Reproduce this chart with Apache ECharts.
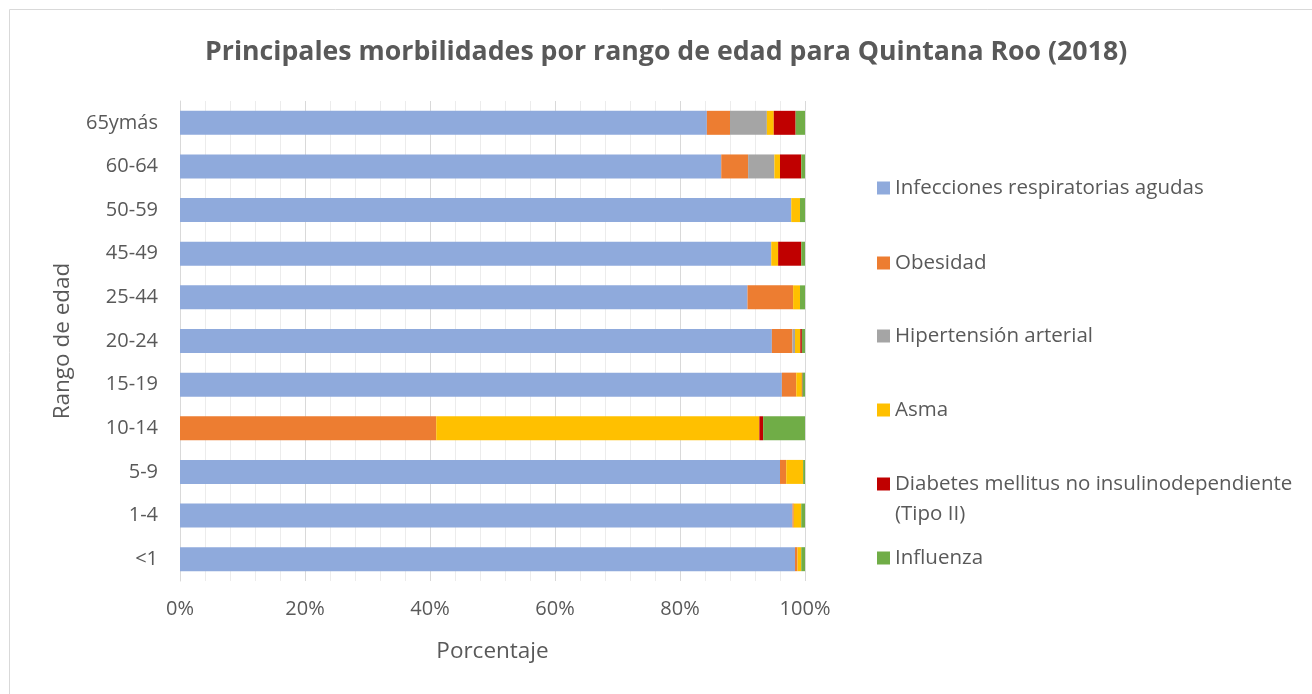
<!DOCTYPE html>
<html>
<head>
<meta charset="utf-8">
<script src="https://cdn.jsdelivr.net/npm/echarts@6/dist/echarts.min.js"></script>
<style>
  html, body { margin: 0; padding: 0; background: #fff; }
  #chart-container { width: 1312px; height: 694px; }
</style>
</head>
<body>
<div id="chart-container"></div>
<script>
var dom = document.getElementById('chart-container');
var myChart = echarts.init(dom, null, { renderer: 'canvas' });

// bottom to top, like the Excel chart
var categories = ['<1', '1-4', '5-9', '10-14', '15-19', '20-24', '25-44', '45-49', '50-59', '60-64', '65ymás'];

var seriesNames = [
  'Infecciones respiratorias agudas',
  'Obesidad',
  'Hipertensión arterial',
  'Asma',
  'Diabetes mellitus no insulinodependiente (Tipo II)',
  'Influenza'
];

// percentages per category, same order as categories
var infecciones  = [98.4, 98.0, 96.0, 0,    96.3, 94.7, 90.8, 94.6, 97.8, 86.6, 84.3];
var obesidad     = [0.4,  0.2,  1.0,  41.0, 2.3,  3.3,  7.3,  0,    0,    4.3,  3.7];
var hipertension = [0,    0,    0,    0,    0,    0.4,  0,    0,    0,    4.2,  5.9];
var asma         = [0.6,  1.2,  2.7,  51.7, 0.9,  0.85, 1.1,  1.1,  1.4,  0.9,  1.1];
var diabetes     = [0,    0,    0,    0.6,  0.1,  0.25, 0,    3.7,  0,    3.4,  3.5];
var influenza    = [0.6,  0.6,  0.3,  6.7,  0.4,  0.5,  0.8,  0.6,  0.8,  0.6,  1.5];

var xTicks = [0, 20, 40, 60, 80, 100];

var colors = ['#8faadc', '#ed7d31', '#a5a5a5', '#ffc000', '#c00000', '#70ad47'];
var allValues = [infecciones, obesidad, hipertension, asma, diabetes, influenza];

var font = '"Open Sans", Lato, sans-serif';
var textColor = '#595959';

var legendCenters = [186, 261, 334, 408, 482, 556];
var legends = seriesNames.map(function (name, i) {
  var multi = i === 4;
  return {
    orient: 'vertical',
    left: 872,
    top: legendCenters[i] - (multi ? 45 : 15) - 3,
    data: [name],
    itemWidth: 13,
    itemHeight: 13,
    itemGap: 0,
    icon: 'rect',
    formatter: function (n) {
      return multi ? '\nDiabetes mellitus no insulinodependiente\n(Tipo II)' : n;
    },
    textStyle: {
      fontFamily: font,
      fontSize: 20.5,
      color: textColor,
      lineHeight: 30
    }
  };
});

var option = {
  animation: false,
  color: colors,
  title: {
    text: 'Principales morbilidades por rango de edad para Quintana Roo (2018)',
    left: 200,
    top: 34,
    textStyle: {
      fontFamily: font,
      fontSize: 26.7,
      fontWeight: 'bold',
      color: textColor
    }
  },
  graphic: [{
    type: 'rect',
    shape: { x: 9.5, y: 9.5, width: 1320, height: 700 },
    style: { fill: 'none', stroke: '#d9d9d9', lineWidth: 1 },
    silent: true
  }],
  legend: legends,
  grid: {
    left: 180,
    right: 507,
    top: 101,
    bottom: 113
  },
  xAxis: {
    type: 'value',
    min: 0,
    max: 100,
    interval: xTicks[1] - xTicks[0],
    name: 'Porcentaje',
    nameLocation: 'middle',
    nameGap: 59,
    nameTextStyle: { fontFamily: font, fontSize: 22.5, color: textColor },
    axisLine: { show: false },
    axisTick: { show: false },
    axisLabel: {
      margin: 18,
      fontFamily: font,
      fontSize: 20,
      color: textColor,
      formatter: '{value}%'
    },
    splitLine: { show: true, lineStyle: { color: '#d9d9d9', width: 1 } },
    minorTick: { show: false, splitNumber: 5 },
    minorSplitLine: { show: true, lineStyle: { color: '#ececec', width: 1 } }
  },
  yAxis: {
    type: 'category',
    data: categories,
    name: 'Rango de edad',
    nameLocation: 'middle',
    nameGap: 106,
    nameTextStyle: { fontFamily: font, fontSize: 22.5, color: textColor },
    axisLine: { show: true, lineStyle: { color: '#d9d9d9', width: 1 } },
    axisTick: { show: false },
    axisLabel: {
      margin: 22,
      fontFamily: font,
      fontSize: 20,
      color: textColor
    },
    splitLine: { show: false }
  },
  series: seriesNames.map(function (name, i) {
    return {
      name: name,
      type: 'bar',
      stack: 'total',
      barWidth: '55%',
      data: allValues[i],
      itemStyle: { color: colors[i] }
    };
  })
};

if (option && typeof option === 'object') {
  myChart.setOption(option);
}

window.addEventListener('resize', myChart.resize);
</script>
</body>
</html>
